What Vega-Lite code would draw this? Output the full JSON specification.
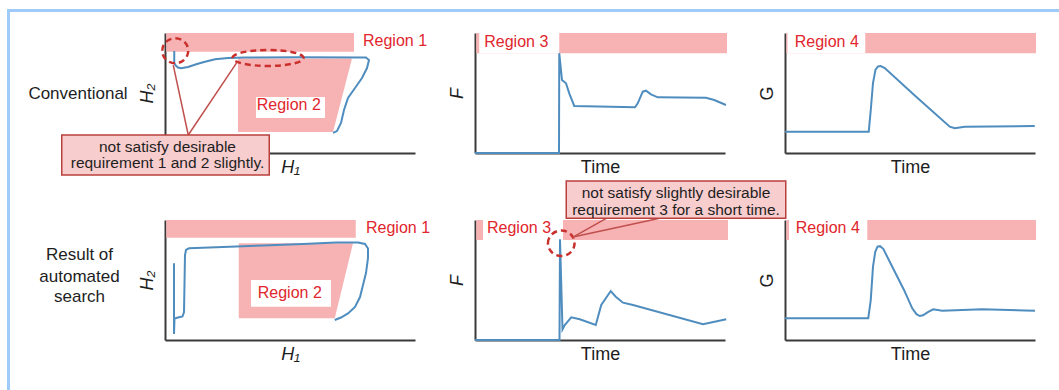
{
  "$schema": "https://vega.github.io/schema/vega-lite/v6.json",
  "background": "white",
  "padding": {"left": 7, "top": 9, "right": 0, "bottom": 0},
  "config": {
    "font": "Liberation Sans",
    "view": {"stroke": null},
    "axis": {"domain": true, "domainColor": "#3a3a3a", "domainWidth": 2, "ticks": false, "labels": false, "grid": false, "minExtent": 0, "titleFont": "Liberation Sans", "titleFontSize": 18, "titleFontWeight": "normal", "titleColor": "#1e1e1e"},
    "axisX": {"titlePadding": 5},
    "axisY": {"titlePadding": 9}
  },
  "bounds": "flush",
  "columns": 3,
  "spacing": {"row": 67, "column": 60},
  "concat": [
    {
      "width": 250, "height": 120,
      "encoding": {
        "x": {"field": "x", "type": "quantitative", "scale": {"domain": [0, 100], "nice": false, "zero": false}, "axis": {"title": "H₁", "titleFontStyle": "italic"}},
        "y": {"field": "y", "type": "quantitative", "scale": {"domain": [0, 100], "nice": false, "zero": false}, "axis": {"title": "H₂", "titleFontStyle": "italic"}}
      },
      "layer": [
        {"data": {"values": [{"x": -63.2, "x2": -62, "y": 120, "y2": -197.5}, {"x": -63.2, "x2": 357.6, "y": 120, "y2": 117.5}]},
         "mark": {"type": "rect", "fill": "#9ecbf8", "clip": false},
         "encoding": {"x2": {"field": "x2"}, "y2": {"field": "y2"}}},
        {"data": {"values": [{"x": 0.5, "x2": 75.6, "y": 84.4, "y2": 100}]},
         "mark": {"type": "rect", "fill": "#f7b2b4", "clip": false},
         "encoding": {"x2": {"field": "x2"}, "y2": {"field": "y2"}}},
        {"data": {"values": [{"y": 17.5, "x": 29.2, "x2": 67.2}, {"y": 78.75, "x": 29.2, "x2": 74.8}]},
         "mark": {"type": "area", "orient": "horizontal", "fill": "#f7b2b4", "clip": false},
         "encoding": {"x2": {"field": "x2"}}},
        {"data": {"values": [{"x": 36.4, "x2": 64, "y": 29.2, "y2": 46.7}]},
         "mark": {"type": "rect", "fill": "white", "clip": false},
         "encoding": {"x2": {"field": "x2"}, "y2": {"field": "y2"}}},
        {"data": {"values": [{"x": 79.2, "y": 93, "t": "Region 1"}]},
         "mark": {"type": "text", "align": "left", "baseline": "middle", "fontSize": 16, "color": "#e1262d", "clip": false},
         "encoding": {"text": {"field": "t"}}},
        {"data": {"values": [{"x": 49.5, "y": 39.6, "t": "Region 2"}]},
         "mark": {"type": "text", "align": "center", "baseline": "middle", "fontSize": 16, "color": "#e1262d", "clip": false},
         "encoding": {"text": {"field": "t"}}},
        {"data": {"values": [
          {"i": 1, "x": 3.7, "y": 85}, {"i": 2, "x": 3.7, "y": 75}, {"i": 3, "x": 4.3, "y": 72.9}, {"i": 4, "x": 5.2, "y": 71.25},
          {"i": 5, "x": 6.4, "y": 70.6}, {"i": 6, "x": 9.2, "y": 71.7}, {"i": 7, "x": 12.8, "y": 74.2}, {"i": 8, "x": 16, "y": 76.1},
          {"i": 9, "x": 20, "y": 78.1}, {"i": 10, "x": 25.2, "y": 79.2}, {"i": 11, "x": 32, "y": 79.6}, {"i": 12, "x": 54, "y": 79.75},
          {"i": 13, "x": 80.4, "y": 79.6}, {"i": 14, "x": 81.6, "y": 77.5}, {"i": 15, "x": 80.8, "y": 70.8}, {"i": 16, "x": 78.8, "y": 62.5},
          {"i": 17, "x": 76, "y": 54.2}, {"i": 18, "x": 73.2, "y": 45.8}, {"i": 19, "x": 71.6, "y": 35.8}, {"i": 20, "x": 70.4, "y": 25},
          {"i": 21, "x": 68.8, "y": 18.3}, {"i": 22, "x": 67.2, "y": 16.7}
        ]},
         "mark": {"type": "line", "color": "#4f8dbf", "strokeWidth": 2, "clip": false},
         "encoding": {"order": {"field": "i"}}},
        {"data": {"values": [{"x": 4.1, "y": 85.2}]},
         "mark": {"type": "point", "shape": "M -1 0 C -1 -0.53 -0.5523 -0.96 0 -0.96 C 0.5523 -0.96 1 -0.53 1 0 C 1 0.53 0.5523 0.96 0 0.96 C -0.5523 0.96 -1 0.53 -1 0 Z", "size": 676, "filled": false, "stroke": "#c9302c", "strokeWidth": 2.5, "strokeDash": [6, 4], "opacity": 1, "clip": false}},
        {"data": {"values": [{"x": 41.2, "y": 79.2}]},
         "mark": {"type": "point", "shape": "M -1 0 C -1 -0.1243 -0.5523 -0.225 0 -0.225 C 0.5523 -0.225 1 -0.1243 1 0 C 1 0.1243 0.5523 0.225 0 0.225 C -0.5523 0.225 -1 0.1243 -1 0 Z", "size": 5041, "filled": false, "stroke": "#c9302c", "strokeWidth": 2.5, "strokeDash": [6, 4], "opacity": 1, "clip": false}},
        {"data": {"values": [{"x": 3.3, "y": 73.3, "x2": 9.3, "y2": 15}, {"x": 28.7, "y": 75.25, "x2": 9.3, "y2": 15}]},
         "mark": {"type": "rule", "color": "#c0504d", "strokeWidth": 1.5, "clip": false},
         "encoding": {"x2": {"field": "x2"}, "y2": {"field": "y2"}}},
        {"data": {"values": [{"x": -41.3, "x2": 41.7, "y": 15, "y2": -18.3}]},
         "mark": {"type": "rect", "fill": "#f8cdce", "stroke": "#b9403c", "strokeWidth": 1.5, "clip": false},
         "encoding": {"x2": {"field": "x2"}, "y2": {"field": "y2"}}},
        {"data": {"values": [{"x": 1, "y": 5.25, "t": "not satisfy desirable"}, {"x": 1, "y": -8.6, "t": "requirement 1 and 2 slightly."}]},
         "mark": {"type": "text", "align": "center", "baseline": "middle", "fontSize": 15.5, "color": "#1e1e1e", "clip": false},
         "encoding": {"text": {"field": "t"}}},
        {"data": {"values": [{"x": -34.8, "y": 49.2, "t": "Conventional"}]},
         "mark": {"type": "text", "align": "center", "baseline": "middle", "fontSize": 17, "color": "#1e1e1e", "clip": false},
         "encoding": {"text": {"field": "t"}}}
      ]
    },
    {
      "width": 250, "height": 120,
      "encoding": {
        "x": {"field": "x", "type": "quantitative", "scale": {"domain": [0, 100], "nice": false, "zero": false}, "axis": {"title": "Time"}},
        "y": {"field": "y", "type": "quantitative", "scale": {"domain": [0, 100], "nice": false, "zero": false}, "axis": {"title": "F", "titleFontStyle": "italic"}}
      },
      "layer": [
        {"data": {"values": [{"x": 0.5, "x2": 100.8, "y": 83.2, "y2": 100}]},
         "mark": {"type": "rect", "fill": "#f7b2b4", "clip": false},
         "encoding": {"x2": {"field": "x2"}, "y2": {"field": "y2"}}},
        {"data": {"values": [{"x": 1.7, "x2": 33.7, "y": 83.2, "y2": 100}]},
         "mark": {"type": "rect", "fill": "white", "clip": false},
         "encoding": {"x2": {"field": "x2"}, "y2": {"field": "y2"}}},
        {"data": {"values": [{"x": 3.7, "y": 92.5, "t": "Region 3"}]},
         "mark": {"type": "text", "align": "left", "baseline": "middle", "fontSize": 16, "color": "#e1262d", "clip": false},
         "encoding": {"text": {"field": "t"}}},
        {"data": {"values": [
          {"i": 1, "x": 0, "y": 0}, {"i": 2, "x": 33.6, "y": 0}, {"i": 3, "x": 33.7, "y": 83.2}, {"i": 4, "x": 34.8, "y": 60.8},
          {"i": 5, "x": 36.4, "y": 58.1}, {"i": 6, "x": 37.7, "y": 49.7}, {"i": 7, "x": 39.7, "y": 39.2}, {"i": 8, "x": 64, "y": 38.1},
          {"i": 9, "x": 65.1, "y": 41.4}, {"i": 10, "x": 67.1, "y": 51.1}, {"i": 11, "x": 68.4, "y": 51.9}, {"i": 12, "x": 70.4, "y": 48.9},
          {"i": 13, "x": 73.1, "y": 46.4}, {"i": 14, "x": 92.4, "y": 46.1}, {"i": 15, "x": 95.7, "y": 44.2}, {"i": 16, "x": 100.4, "y": 40}
        ]},
         "mark": {"type": "line", "color": "#4f8dbf", "strokeWidth": 2, "clip": false},
         "encoding": {"order": {"field": "i"}}}
      ]
    },
    {
      "width": 250, "height": 120,
      "encoding": {
        "x": {"field": "x", "type": "quantitative", "scale": {"domain": [0, 100], "nice": false, "zero": false}, "axis": {"title": "Time"}},
        "y": {"field": "y", "type": "quantitative", "scale": {"domain": [0, 100], "nice": false, "zero": false}, "axis": {"title": "G"}}
      },
      "layer": [
        {"data": {"values": [{"x": 0.5, "x2": 100.4, "y": 83.2, "y2": 100}]},
         "mark": {"type": "rect", "fill": "#f7b2b4", "clip": false},
         "encoding": {"x2": {"field": "x2"}, "y2": {"field": "y2"}}},
        {"data": {"values": [{"x": 1.0, "x2": 32.1, "y": 83.2, "y2": 100}]},
         "mark": {"type": "rect", "fill": "white", "clip": false},
         "encoding": {"x2": {"field": "x2"}, "y2": {"field": "y2"}}},
        {"data": {"values": [{"x": 3.9, "y": 92.5, "t": "Region 4"}]},
         "mark": {"type": "text", "align": "left", "baseline": "middle", "fontSize": 16, "color": "#e1262d", "clip": false},
         "encoding": {"text": {"field": "t"}}},
        {"data": {"values": [
          {"i": 1, "x": 0, "y": 17.75}, {"i": 2, "x": 33.5, "y": 17.75}, {"i": 3, "x": 34.3, "y": 35.8}, {"i": 4, "x": 35.2, "y": 58.3},
          {"i": 5, "x": 36.2, "y": 69.5}, {"i": 6, "x": 37.2, "y": 72.2}, {"i": 7, "x": 38.3, "y": 72.4}, {"i": 8, "x": 39.9, "y": 70.8},
          {"i": 9, "x": 51.9, "y": 48}, {"i": 10, "x": 65.9, "y": 21.9}, {"i": 11, "x": 67.9, "y": 20.6}, {"i": 12, "x": 71.9, "y": 21.9},
          {"i": 13, "x": 99.9, "y": 22.5}
        ]},
         "mark": {"type": "line", "color": "#4f8dbf", "strokeWidth": 2, "clip": false},
         "encoding": {"order": {"field": "i"}}}
      ]
    },
    {
      "width": 250, "height": 120,
      "encoding": {
        "x": {"field": "x", "type": "quantitative", "scale": {"domain": [0, 100], "nice": false, "zero": false}, "axis": {"title": "H₁", "titleFontStyle": "italic"}},
        "y": {"field": "y", "type": "quantitative", "scale": {"domain": [0, 100], "nice": false, "zero": false}, "axis": {"title": "H₂", "titleFontStyle": "italic"}}
      },
      "layer": [
        {"data": {"values": [{"x": 0.5, "x2": 76.3, "y": 85.25, "y2": 100}]},
         "mark": {"type": "rect", "fill": "#f7b2b4", "clip": false},
         "encoding": {"x2": {"field": "x2"}, "y2": {"field": "y2"}}},
        {"data": {"values": [{"y": 18.1, "x": 29.5, "x2": 67.9}, {"y": 80.6, "x": 29.5, "x2": 75.2}]},
         "mark": {"type": "area", "orient": "horizontal", "fill": "#f7b2b4", "clip": false},
         "encoding": {"x2": {"field": "x2"}}},
        {"data": {"values": [{"x": 34.4, "x2": 66.4, "y": 27.75, "y2": 50}]},
         "mark": {"type": "rect", "fill": "white", "clip": false},
         "encoding": {"x2": {"field": "x2"}, "y2": {"field": "y2"}}},
        {"data": {"values": [{"x": 80.4, "y": 93.3, "t": "Region 1"}]},
         "mark": {"type": "text", "align": "left", "baseline": "middle", "fontSize": 16, "color": "#e1262d", "clip": false},
         "encoding": {"text": {"field": "t"}}},
        {"data": {"values": [{"x": 49.9, "y": 38.9, "t": "Region 2"}]},
         "mark": {"type": "text", "align": "center", "baseline": "middle", "fontSize": 16, "color": "#e1262d", "clip": false},
         "encoding": {"text": {"field": "t"}}},
        {"data": {"values": [
          {"i": 1, "x": 3.6, "y": 63.9}, {"i": 2, "x": 3.6, "y": 5}, {"i": 3, "x": 3.8, "y": 17.9}, {"i": 4, "x": 5.2, "y": 18.75},
          {"i": 5, "x": 7, "y": 19.6}, {"i": 6, "x": 7.6, "y": 23.3}, {"i": 7, "x": 8, "y": 70.8}, {"i": 8, "x": 8.4, "y": 75},
          {"i": 9, "x": 9.6, "y": 76.4}, {"i": 10, "x": 23.2, "y": 77.5}, {"i": 11, "x": 39.2, "y": 78.75}, {"i": 12, "x": 55.2, "y": 80},
          {"i": 13, "x": 68.4, "y": 81.25}, {"i": 14, "x": 77.2, "y": 81.25}, {"i": 15, "x": 80, "y": 80}, {"i": 16, "x": 81.2, "y": 76.25},
          {"i": 17, "x": 81.2, "y": 68.3}, {"i": 18, "x": 80.4, "y": 55.8}, {"i": 19, "x": 79.2, "y": 45.8}, {"i": 20, "x": 78, "y": 35.8},
          {"i": 21, "x": 76, "y": 27.5}, {"i": 22, "x": 73.2, "y": 22.1}, {"i": 23, "x": 70.4, "y": 18.75}, {"i": 24, "x": 67.9, "y": 16.7}
        ]},
         "mark": {"type": "line", "color": "#4f8dbf", "strokeWidth": 2, "clip": false},
         "encoding": {"order": {"field": "i"}}},
        {"data": {"values": [{"x": -34.2, "y": 70.8, "t": "Result of"}, {"x": -34.2, "y": 52.2, "t": "automated"}, {"x": -34.2, "y": 35.6, "t": "search"}]},
         "mark": {"type": "text", "align": "center", "baseline": "middle", "fontSize": 17, "color": "#1e1e1e", "clip": false},
         "encoding": {"text": {"field": "t"}}}
      ]
    },
    {
      "width": 250, "height": 120,
      "encoding": {
        "x": {"field": "x", "type": "quantitative", "scale": {"domain": [0, 100], "nice": false, "zero": false}, "axis": {"title": "Time"}},
        "y": {"field": "y", "type": "quantitative", "scale": {"domain": [0, 100], "nice": false, "zero": false}, "axis": {"title": "F", "titleFontStyle": "italic"}}
      },
      "layer": [
        {"data": {"values": [{"x": 0.5, "x2": 101.2, "y": 83.3, "y2": 100}]},
         "mark": {"type": "rect", "fill": "#f7b2b4", "clip": false},
         "encoding": {"x2": {"field": "x2"}, "y2": {"field": "y2"}}},
        {"data": {"values": [{"x": 3.2, "x2": 35.2, "y": 83.3, "y2": 100}]},
         "mark": {"type": "rect", "fill": "white", "clip": false},
         "encoding": {"x2": {"field": "x2"}, "y2": {"field": "y2"}}},
        {"data": {"values": [{"x": 4.8, "y": 93.3, "t": "Region 3"}]},
         "mark": {"type": "text", "align": "left", "baseline": "middle", "fontSize": 16, "color": "#e1262d", "clip": false},
         "encoding": {"text": {"field": "t"}}},
        {"data": {"values": [
          {"i": 1, "x": 0, "y": 0}, {"i": 2, "x": 33.8, "y": 0}, {"i": 3, "x": 34.0, "y": 83.9}, {"i": 4, "x": 35.0, "y": 8.9},
          {"i": 5, "x": 35.9, "y": 12.5}, {"i": 6, "x": 38.5, "y": 18.9}, {"i": 7, "x": 41.9, "y": 17.25}, {"i": 8, "x": 48.3, "y": 12.5},
          {"i": 9, "x": 50.5, "y": 29.2}, {"i": 10, "x": 54.3, "y": 40.8}, {"i": 11, "x": 56.3, "y": 36.1}, {"i": 12, "x": 59.2, "y": 31.1},
          {"i": 13, "x": 63.2, "y": 29.2}, {"i": 14, "x": 91.2, "y": 13.1}, {"i": 15, "x": 100.5, "y": 17.25}
        ]},
         "mark": {"type": "line", "color": "#4f8dbf", "strokeWidth": 2, "clip": false},
         "encoding": {"order": {"field": "i"}}},
        {"data": {"values": [{"x": 34.5, "y": 80.6}]},
         "mark": {"type": "point", "shape": "M -1 0 C -1 -0.53 -0.5523 -0.96 0 -0.96 C 0.5523 -0.96 1 -0.53 1 0 C 1 0.53 0.5523 0.96 0 0.96 C -0.5523 0.96 -1 0.53 -1 0 Z", "size": 708, "filled": false, "stroke": "#c9302c", "strokeWidth": 2.5, "strokeDash": [6, 4], "opacity": 1, "clip": false}},
        {"data": {"values": [{"x": 52.5, "y": 101.4, "x2": 39.2, "y2": 85.8}, {"x": 73.9, "y": 101.4, "x2": 39.2, "y2": 85.8}]},
         "mark": {"type": "rule", "color": "#c0504d", "strokeWidth": 1.5, "clip": false},
         "encoding": {"x2": {"field": "x2"}, "y2": {"field": "y2"}}},
        {"data": {"values": [{"x": 36.5, "x2": 124.3, "y": 101.4, "y2": 132.5}]},
         "mark": {"type": "rect", "fill": "#f8cdce", "stroke": "#b9403c", "strokeWidth": 1.5, "clip": false},
         "encoding": {"x2": {"field": "x2"}, "y2": {"field": "y2"}}},
        {"data": {"values": [{"x": 80.4, "y": 122.25, "t": "not satisfy slightly desirable"}, {"x": 80.4, "y": 108.3, "t": "requirement 3 for a short time."}]},
         "mark": {"type": "text", "align": "center", "baseline": "middle", "fontSize": 15.5, "color": "#1e1e1e", "clip": false},
         "encoding": {"text": {"field": "t"}}}
      ]
    },
    {
      "width": 250, "height": 120,
      "encoding": {
        "x": {"field": "x", "type": "quantitative", "scale": {"domain": [0, 100], "nice": false, "zero": false}, "axis": {"title": "Time"}},
        "y": {"field": "y", "type": "quantitative", "scale": {"domain": [0, 100], "nice": false, "zero": false}, "axis": {"title": "G"}}
      },
      "layer": [
        {"data": {"values": [{"x": 0.5, "x2": 100.4, "y": 83.3, "y2": 100}]},
         "mark": {"type": "rect", "fill": "#f7b2b4", "clip": false},
         "encoding": {"x2": {"field": "x2"}, "y2": {"field": "y2"}}},
        {"data": {"values": [{"x": 1.6, "x2": 32.9, "y": 83.3, "y2": 100}]},
         "mark": {"type": "rect", "fill": "white", "clip": false},
         "encoding": {"x2": {"field": "x2"}, "y2": {"field": "y2"}}},
        {"data": {"values": [{"x": 4.3, "y": 93.3, "t": "Region 4"}]},
         "mark": {"type": "text", "align": "left", "baseline": "middle", "fontSize": 16, "color": "#e1262d", "clip": false},
         "encoding": {"text": {"field": "t"}}},
        {"data": {"values": [
          {"i": 1, "x": 0, "y": 18.1}, {"i": 2, "x": 33.3, "y": 18.1}, {"i": 3, "x": 34.3, "y": 33.3}, {"i": 4, "x": 35.2, "y": 61.1},
          {"i": 5, "x": 36.1, "y": 73.5}, {"i": 6, "x": 37.0, "y": 77.8}, {"i": 7, "x": 38.0, "y": 78.2}, {"i": 8, "x": 39.3, "y": 76.0},
          {"i": 9, "x": 42.9, "y": 61.1}, {"i": 10, "x": 47.6, "y": 41.7}, {"i": 11, "x": 50.9, "y": 26.4}, {"i": 12, "x": 52.6, "y": 21.5},
          {"i": 13, "x": 53.9, "y": 20}, {"i": 14, "x": 55.2, "y": 20.6}, {"i": 15, "x": 57.3, "y": 23.4}, {"i": 16, "x": 59.3, "y": 25.6},
          {"i": 17, "x": 62.9, "y": 24.4}, {"i": 18, "x": 78.9, "y": 25.6}, {"i": 19, "x": 100, "y": 24.4}
        ]},
         "mark": {"type": "line", "color": "#4f8dbf", "strokeWidth": 2, "clip": false},
         "encoding": {"order": {"field": "i"}}}
      ]
    }
  ]
}
